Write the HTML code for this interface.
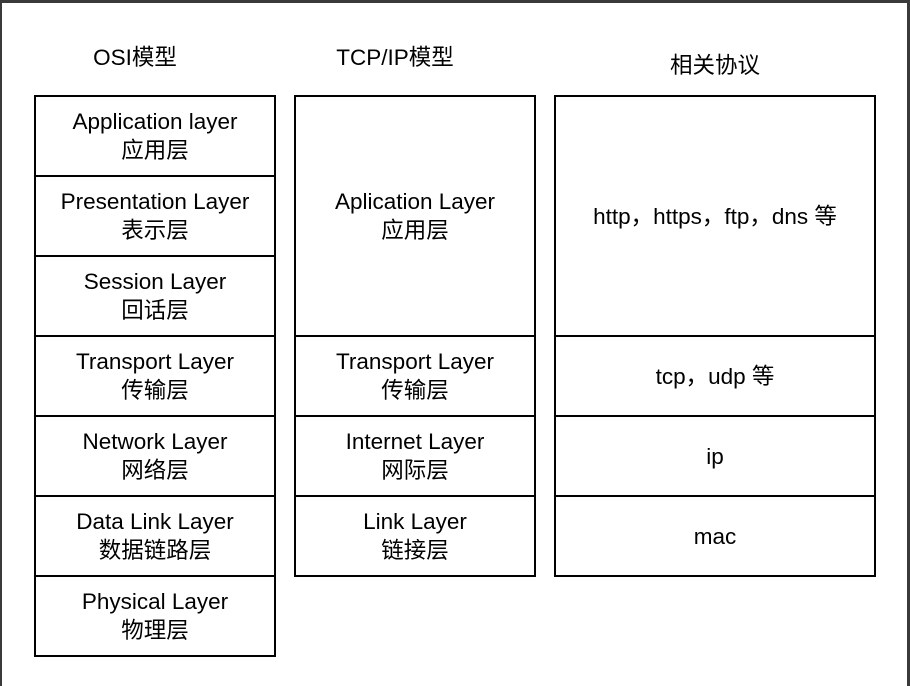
<!DOCTYPE html>
<html><head><meta charset="utf-8"><style>
body{margin:0;width:910px;height:686px;background:#3a3a3a;position:relative;overflow:hidden;font-family:"Liberation Sans","Noto Sans CJK SC",sans-serif;color:#000}
.pg{position:absolute;left:2px;top:3px;width:905px;height:683px;background:#fff}
.b{position:absolute;box-sizing:border-box;border:2px solid #000;display:flex;flex-direction:column;justify-content:center;align-items:center;text-align:center;font-size:22.5px;line-height:29px;background:#fff;white-space:nowrap}
.t{position:absolute;font-size:22.5px;text-align:center;width:240px}
</style></head><body><div class="pg"></div>
<div class="t" style="left:15px;top:40px">OSI模型</div>
<div class="t" style="left:275px;top:40px">TCP/IP模型</div>
<div class="t" style="left:595px;top:48px">相关协议</div>
<div class="b" style="left:34px;top:95px;width:242px;height:82px">Application layer<br>应用层</div>
<div class="b" style="left:34px;top:175px;width:242px;height:82px">Presentation Layer<br>表示层</div>
<div class="b" style="left:34px;top:255px;width:242px;height:82px">Session Layer<br>回话层</div>
<div class="b" style="left:34px;top:335px;width:242px;height:82px">Transport Layer<br>传输层</div>
<div class="b" style="left:34px;top:415px;width:242px;height:82px">Network Layer<br>网络层</div>
<div class="b" style="left:34px;top:495px;width:242px;height:82px">Data Link Layer<br>数据链路层</div>
<div class="b" style="left:34px;top:575px;width:242px;height:82px">Physical Layer<br>物理层</div>
<div class="b" style="left:294px;top:95px;width:242px;height:242px">Aplication Layer<br>应用层</div>
<div class="b" style="left:294px;top:335px;width:242px;height:82px">Transport Layer<br>传输层</div>
<div class="b" style="left:294px;top:415px;width:242px;height:82px">Internet Layer<br>网际层</div>
<div class="b" style="left:294px;top:495px;width:242px;height:82px">Link Layer<br>链接层</div>
<div class="b" style="left:554px;top:95px;width:322px;height:242px">http，https，ftp，dns 等</div>
<div class="b" style="left:554px;top:335px;width:322px;height:82px">tcp，udp 等</div>
<div class="b" style="left:554px;top:415px;width:322px;height:82px">ip</div>
<div class="b" style="left:554px;top:495px;width:322px;height:82px">mac</div>
</body></html>
